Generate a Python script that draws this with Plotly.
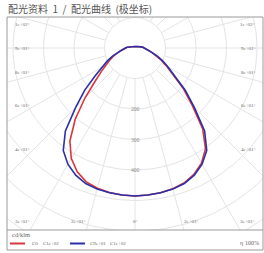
import numpy as np
import plotly.graph_objects as go

# ---------------- data (cd/klm) ----------------
TITLE = "配光资料  1  /  配光曲线  (极坐标)"
UNIT = "cd/klm"
EFF_SYMBOL = "η"
EFF_VALUE = "100%"

angles = list(range(0, 181, 5))  # gamma angle from nadir
c0   = [485, 484, 482, 478, 471, 457, 436, 403, 345, 265, 207, 155, 120, 96, 76, 58, 46, 38, 31, 26,
        21, 17, 14, 12, 10, 9, 8, 7, 6, 6, 5, 5, 5, 5, 5, 5, 5]
c180 = [485, 484, 481, 476, 467, 448, 418, 372, 305, 232, 172, 135, 108, 90, 74, 58, 46, 38, 31, 26,
        21, 17, 14, 12, 10, 9, 8, 7, 6, 6, 5, 5, 5, 5, 5, 5, 5]
c90  = [485, 484, 482, 479, 473, 460, 440, 410, 355, 275, 215, 160, 125, 100, 78, 58, 46, 38, 31, 26,
        21, 17, 14, 12, 10, 9, 8, 7, 6, 6, 5, 5, 5, 5, 5, 5, 5]
c270 = [485, 484, 482, 479, 473, 460, 440, 410, 355, 275, 215, 160, 125, 100, 78, 58, 46, 38, 31, 26,
        21, 17, 14, 12, 10, 9, 8, 7, 6, 6, 5, 5, 5, 5, 5, 5, 5]

grid_radii = [100, 200, 300, 400, 500, 600, 700, 800, 900]
spoke_angles = list(range(0, 360, 15))
label_angles = [0, 15, 30, 45, 60, 75, 90, 105]
radial_labels = [200, 300, 400]
legend_red = ["C0", "C1e+02"]
legend_blue = ["C9e+01", "C1e+02"]

# ---------------- geometry / style ----------------
W, H = 264, 253
L, R, T, B = 7, 1, 17, 23
pw, ph = W - L - R, H - T - B
PX = 0.305            # pixels per cd/klm
CX, CY = 135, 48      # pole position on the page (px)
xr = [-(CX - L) / PX, (L + pw - CX) / PX]
yr = [-(T + ph - CY) / PX, (CY - T) / PX]

RED = "#d9363a"
BLUE = "#2b2fa8"
GRID = "#e4e4e4"
FRAME = "#9a9a9a"
TXT = "#666666"


def polar_xy(vals, sign):
    th = np.radians(angles)
    r = np.asarray(vals, dtype=float)
    return sign * r * np.sin(th), -r * np.cos(th)


def plane(left_vals, right_vals):
    xl, yl = polar_xy(left_vals, -1)
    xrr, yrr = polar_xy(right_vals, 1)
    return np.concatenate([xl[::-1], xrr]), np.concatenate([yl[::-1], yrr])


fig = go.Figure()

# grid circles
t = np.radians(np.arange(0, 361, 2))
gx, gy = [], []
for rr in grid_radii:
    gx += list(rr * np.sin(t)) + [None]
    gy += list(rr * np.cos(t)) + [None]
fig.add_trace(go.Scatter(x=gx, y=gy, mode="lines", line=dict(color=GRID, width=1),
                         hoverinfo="skip", showlegend=False))
# spokes
sx, sy = [], []
for a in spoke_angles:
    ar = np.radians(a)
    sx += [grid_radii[0] * np.sin(ar), 1500 * np.sin(ar), None]
    sy += [-grid_radii[0] * np.cos(ar), -1500 * np.cos(ar), None]
fig.add_trace(go.Scatter(x=sx, y=sy, mode="lines", line=dict(color=GRID, width=1),
                         hoverinfo="skip", showlegend=False))

# curves
x1, y1 = plane(c180, c0)
fig.add_trace(go.Scatter(x=x1, y=y1, mode="lines", line=dict(color=RED, width=1.6),
                         name="C0 - C180", showlegend=False))
x2, y2 = plane(c270, c90)
fig.add_trace(go.Scatter(x=x2, y=y2, mode="lines", line=dict(color=BLUE, width=1.6),
                         name="C90 - C270", showlegend=False))

ann = []
# angle labels on the frame
in_x = 113 / PX
in_bot = (221 - CY) / PX
in_top = (CY - 24) / PX
for a in label_angles:
    off = 0 if a in (0, 90) else (3 if a < 90 else -3)
    for sgn in ([1] if a == 0 else [-1, 1]):
        ar = np.radians(a + off)
        dx, dy = np.sin(ar), -np.cos(ar)
        ts = [in_x / abs(dx)] if abs(dx) > 1e-9 else []
        if dy < -1e-9:
            ts.append(in_bot / -dy)
        elif dy > 1e-9:
            ts.append(in_top / dy)
        tt = min(ts)
        txt = "0°" if a == 0 else "{:.0e}°".format(a)
        ann.append(dict(x=sgn * tt * dx, y=tt * dy, xref="x", yref="y", text=txt,
                        showarrow=False, font=dict(size=5, color=TXT, family="Liberation Serif")))
# radial value labels
for rv in radial_labels:
    ann.append(dict(x=0, y=-rv, xref="x", yref="y", text=str(rv), showarrow=False,
                    font=dict(size=5.5, color="#888888", family="Liberation Serif")))


def px2paper(px, py):
    return (px - L) / pw, 1 - (py - T) / ph


def add_text(px, py, text, size, anchor="left", color=TXT, family="Liberation Serif"):
    xx, yy = px2paper(px, py)
    ann.append(dict(x=xx, y=yy, xref="paper", yref="paper", text=text, showarrow=False,
                    xanchor=anchor, yanchor="middle", font=dict(size=size, color=color, family=family)))


add_text(6, 8, TITLE, 10, color="#555555", family="Noto Sans CJK SC")
add_text(10, 235, UNIT, 6.5)
add_text(30, 243.5, legend_red[0], 5)
add_text(41, 243.5, legend_red[1], 5)
add_text(88, 243.5, legend_blue[0], 5)
add_text(108, 243.5, legend_blue[1], 5)
add_text(241, 243.5, EFF_SYMBOL, 6, anchor="center")
add_text(261, 243.5, EFF_VALUE, 6, anchor="right")

shapes = []
x0p, y0p = px2paper(7, 250)
shapes.append(dict(type="rect", xref="paper", yref="paper", x0=0, x1=1, y0=y0p, y1=1,
                   line=dict(color=FRAME, width=1)))
shapes.append(dict(type="line", xref="paper", yref="paper", x0=0, x1=1, y0=0, y1=0,
                   line=dict(color=FRAME, width=1)))
for (a, b, col) in [(10, 25, RED), (70, 85, BLUE)]:
    xa, yl = px2paper(a, 243.5)
    xb, _ = px2paper(b, 243.5)
    shapes.append(dict(type="line", xref="paper", yref="paper", x0=xa, x1=xb, y0=yl, y1=yl,
                       line=dict(color=col, width=2)))

fig.update_layout(
    width=W, height=H,
    margin=dict(l=L, r=R, t=T, b=B),
    paper_bgcolor="white", plot_bgcolor="white",
    xaxis=dict(range=xr, visible=False, fixedrange=True),
    yaxis=dict(range=yr, visible=False, fixedrange=True),
    annotations=ann, shapes=shapes, showlegend=False,
)

fig.write_html("out.html", config={"displayModeBar": False},
               post_script="document.body.style.margin='0';document.body.style.overflow='hidden';")
